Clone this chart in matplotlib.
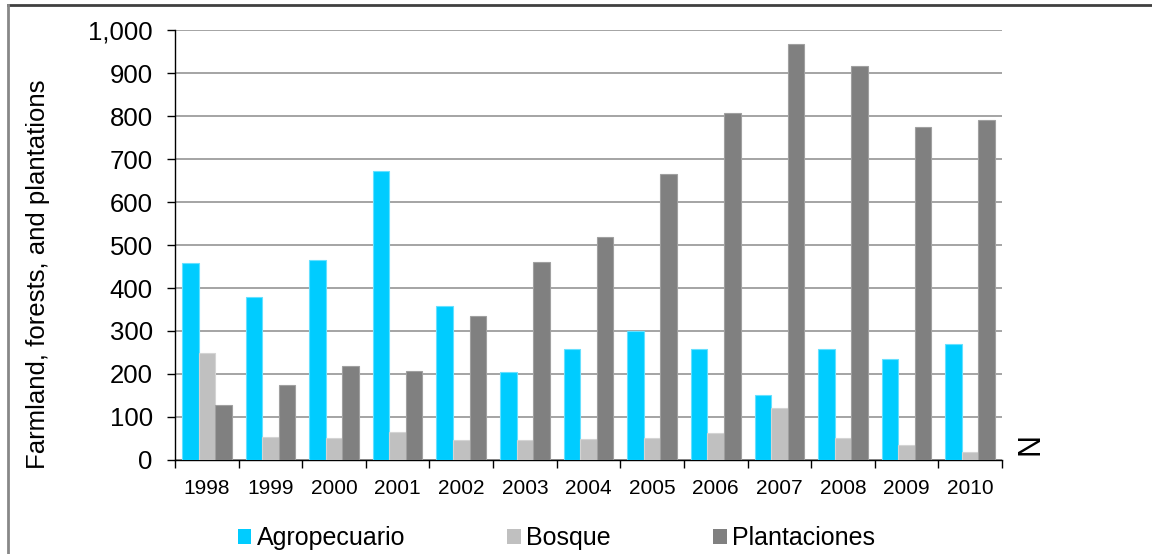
import numpy as np
import matplotlib
matplotlib.use("Agg")
import matplotlib.pyplot as plt
from matplotlib.patches import Patch
from matplotlib.lines import Line2D
from matplotlib.ticker import FuncFormatter, FixedLocator

plt.rcParams['font.family'] = ['Liberation Sans', 'DejaVu Sans']

years = ['1998', '1999', '2000', '2001', '2002', '2003', '2004',
         '2005', '2006', '2007', '2008', '2009', '2010']
agropecuario = [458, 378, 466, 673, 358, 205, 258, 299, 257, 150, 259, 236, 270]
bosque = [248, 54, 51, 66, 46, 47, 48, 50, 63, 121, 51, 35, 18]
plantaciones = [127, 175, 219, 207, 335, 460, 518, 666, 806, 967, 916, 774, 791]
series_names = ['Agropecuario', 'Bosque', 'Plantaciones']
colors = ['#00CCFF', '#C0C0C0', '#808080']
edges = ['#66E0FF', '#D4D4D4', '#A0A0A0']

fig = plt.figure(figsize=(11.52, 5.54), dpi=100)
ax = fig.add_axes([0.1519, 0.1697, 0.7179, 0.7761])

x = np.arange(len(years))
w = 0.26
for i, vals in enumerate([agropecuario, bosque, plantaciones]):
    ax.bar(x + (i - 1) * w, vals, width=w, color=colors[i],
           edgecolor=edges[i], linewidth=0.8, zorder=3)

ax.set_xlim(-0.5, len(years) - 0.5)
ax.set_ylim(0, 1000)
ax.set_yticks(np.arange(0, 1001, 100))
ax.yaxis.set_major_formatter(FuncFormatter(lambda v, p: f'{int(v):,}'))
ax.grid(axis='y', color='#8C8C8C', linewidth=1.1, zorder=0)

# year labels centred, tick marks on category boundaries
ax.set_xticks(x)
ax.set_xticklabels(years, fontsize=15)
ax.tick_params(axis='x', which='major', length=0, pad=14)
ax.xaxis.set_minor_locator(FixedLocator(np.arange(-0.5, len(years), 1.0)))
ax.tick_params(axis='x', which='minor', length=6, width=1, direction='out')
ax.tick_params(axis='y', labelsize=18.5, length=6, width=1, direction='out', pad=10)

for s in ['top', 'right']:
    ax.spines[s].set_visible(False)
for s in ['left', 'bottom']:
    ax.spines[s].set_color('black')
    ax.spines[s].set_linewidth(1)

fig.text(0.033, 0.505, 'Farmland, forests, and plantations', rotation=90,
         fontsize=18.5, ha='center', va='center')
fig.text(0.8945, 0.198, 'N', rotation=90, fontsize=22, ha='center', va='center',
         family=['Liberation Sans Narrow', 'Liberation Sans'])

handles = [Patch(facecolor=c, edgecolor='none') for c in colors]
fig.legend(handles, series_names, loc='center', bbox_to_anchor=(0.483, 0.029),
           ncol=3, frameon=False, fontsize=18, handlelength=0.55,
           handleheight=0.55, handletextpad=0.2, columnspacing=4.1)

# outer frame of the chart area
fig.add_artist(Line2D([0.007, 1.0], [0.991, 0.991], color='#404040', linewidth=2))
fig.add_artist(Line2D([0.007, 0.007], [0.0, 0.991], color='#888888', linewidth=2))

fig.savefig('out.png', dpi=100)
